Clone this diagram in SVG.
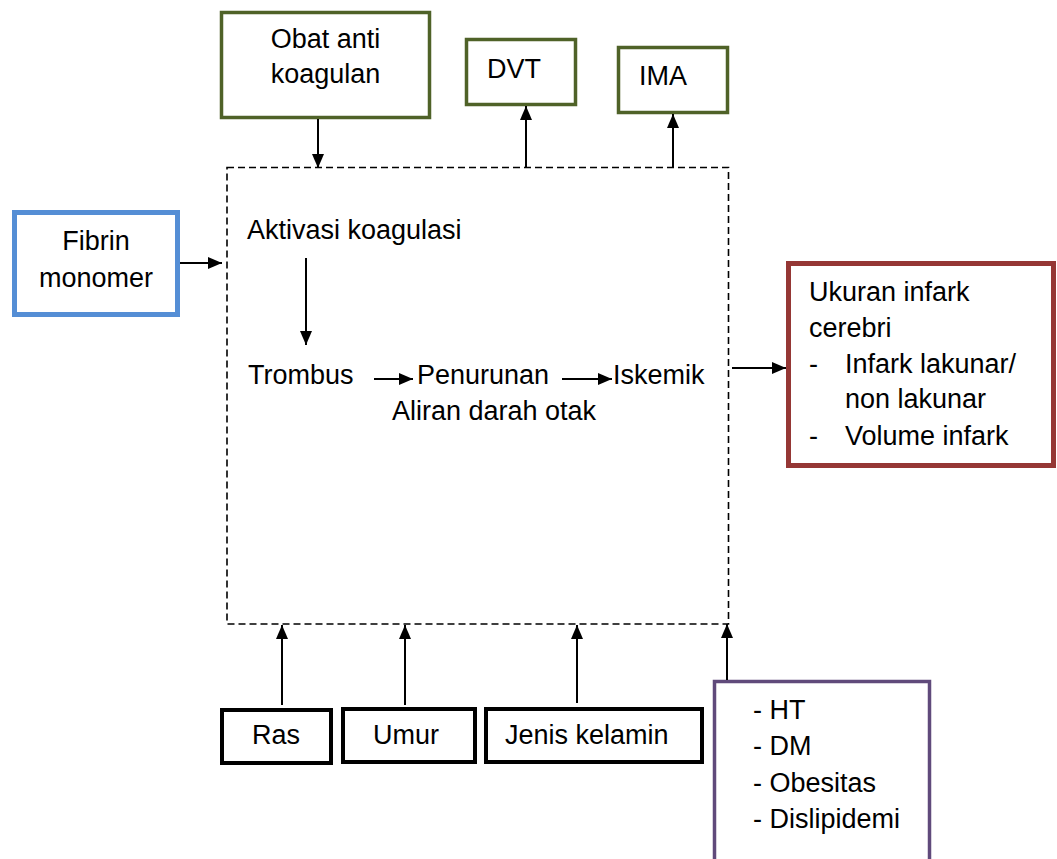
<svg xmlns="http://www.w3.org/2000/svg" width="1057" height="859" viewBox="0 0 1057 859">
<defs>
<style>
text{font-family:"Liberation Sans",Arial,sans-serif;font-size:27px;fill:#000}
.c{text-anchor:middle}
.box{fill:#fff}
.g{stroke:#4F6228;stroke-width:3.5}
.b{stroke:#558ED5;stroke-width:5}
.r{stroke:#953735;stroke-width:5}
.p{stroke:#604A7B;stroke-width:3.5}
.k{stroke:#000;stroke-width:4}
.ln{stroke:#000;stroke-width:2;fill:none;marker-end:url(#ah)}
.dash{fill:none;stroke:#000;stroke-width:1.6;stroke-dasharray:7,4}
</style>
<marker id="ah" markerUnits="userSpaceOnUse" markerWidth="14" markerHeight="12" refX="14" refY="6" orient="auto">
<path d="M0,0 L14,6 L0,12 z" fill="#000"/>
</marker>
</defs>
<rect width="1057" height="859" fill="#fff"/>

<g id="process">
<rect class="dash" x="227" y="167.5" width="501.5" height="456.5"/>
<text x="247" y="239">Aktivasi koagulasi</text>
<text x="248" y="384">Trombus</text>
<text x="417" y="384">Penurunan</text>
<text x="613" y="384">Iskemik</text>
<text x="392" y="420">Aliran darah otak</text>
</g>

<g id="obat">
<rect class="box g" x="221.5" y="12.5" width="208" height="105"/>
<text class="c" x="325.5" y="48">Obat anti</text>
<text class="c" x="325.5" y="83">koagulan</text>
</g>
<g id="dvt">
<rect class="box g" x="466.5" y="39.5" width="109" height="65"/>
<text x="487" y="78">DVT</text>
</g>
<g id="ima">
<rect class="box g" x="618.5" y="47.5" width="109" height="65"/>
<text x="639" y="85">IMA</text>
</g>
<g id="fibrin">
<rect class="box b" x="14.5" y="212.5" width="163" height="102"/>
<text class="c" x="96" y="250">Fibrin</text>
<text class="c" x="96" y="287">monomer</text>
</g>
<g id="ukuran">
<rect class="box r" x="788.5" y="263.5" width="265" height="202"/>
<text x="809" y="301">Ukuran infark</text>
<text x="809" y="337">cerebri</text>
<text x="809" y="373">-</text>
<text x="845" y="373">Infark lakunar/</text>
<text x="845" y="408">non lakunar</text>
<text x="809" y="445">-</text>
<text x="845" y="445">Volume infark</text>
</g>
<g id="ras">
<rect class="box k" x="222" y="710" width="109" height="53"/>
<text class="c" x="276" y="744">Ras</text>
</g>
<g id="umur">
<rect class="box k" x="343" y="709" width="132" height="53"/>
<text class="c" x="406" y="744">Umur</text>
</g>
<g id="jenis">
<rect class="box k" x="486" y="709" width="216" height="53"/>
<text x="505" y="744">Jenis kelamin</text>
</g>
<g id="risiko">
<rect class="box p" x="714.5" y="681.5" width="215" height="190"/>
<text x="753" y="719">- HT</text>
<text x="753" y="755">- DM</text>
<text x="753" y="792">- Obesitas</text>
<text x="753" y="828">- Dislipidemi</text>
</g>

<g id="connectors">
<line class="ln" x1="318" y1="119" x2="318" y2="168"/>
<line class="ln" x1="526" y1="167" x2="526" y2="106"/>
<line class="ln" x1="673" y1="167" x2="673" y2="114"/>
<line class="ln" x1="180" y1="263" x2="222" y2="263"/>
<line class="ln" x1="306" y1="258" x2="306" y2="345"/>
<line class="ln" x1="374" y1="379" x2="413" y2="379"/>
<line class="ln" x1="562" y1="379" x2="612" y2="379"/>
<line class="ln" x1="732" y1="368" x2="786" y2="368"/>
<line class="ln" x1="282" y1="705" x2="282" y2="625"/>
<line class="ln" x1="405" y1="705" x2="405" y2="625"/>
<line class="ln" x1="577" y1="703" x2="577" y2="625"/>
<line class="ln" x1="727" y1="680" x2="727" y2="624"/>
</g>
</svg>
